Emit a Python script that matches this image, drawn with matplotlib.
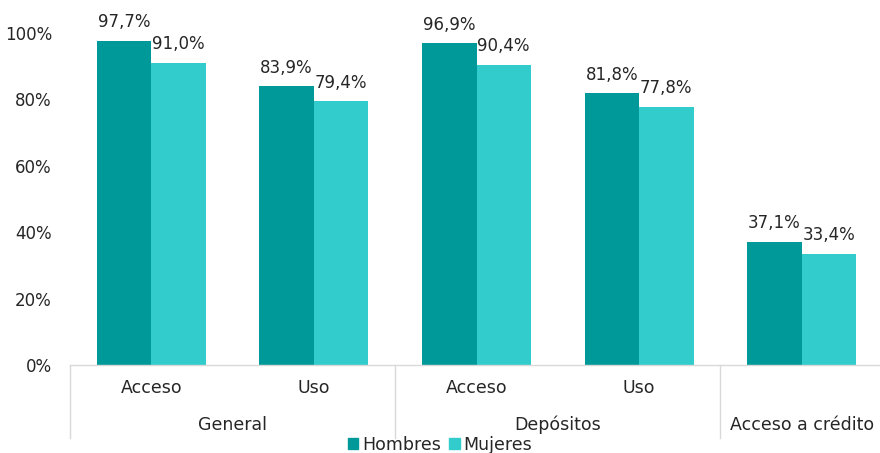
import matplotlib
matplotlib.use("Agg")
import matplotlib.pyplot as plt
from matplotlib.transforms import blended_transform_factory
from matplotlib.patches import Patch

categories = ["Acceso", "Uso", "Acceso", "Uso", ""]
groups = ["General", "Depósitos", "Acceso a crédito"]
group_spans = [(0, 1), (2, 3), (4, 4)]
hombres = [97.7, 83.9, 96.9, 81.8, 37.1]
mujeres = [91.0, 79.4, 90.4, 77.8, 33.4]
yticks = [0, 20, 40, 60, 80, 100]
series_names = ["Hombres", "Mujeres"]

c_h = "#009999"
c_m = "#33CCCC"
txt = "#262626"
plt.rcParams["font.family"] = ["DejaVu Sans"]
fs_num = 12
fs_word = 12.5

fig = plt.figure(figsize=(8.8, 4.53), dpi=100)
W, H = 880, 453
ax = fig.add_axes([70 / W, (H - 365) / H, 813 / W, 332 / H])

x = list(range(len(hombres)))
w = 0.335
b1 = ax.bar([i - w / 2 for i in x], hombres, w, color=c_h)
b2 = ax.bar([i + w / 2 for i in x], mujeres, w, color=c_m)

def fmt(v):
    return f"{v:.1f}%".replace(".", ",")

for bars, vals in ((b1, hombres), (b2, mujeres)):
    for r, v in zip(bars, vals):
        ax.annotate(fmt(v), (r.get_x() + r.get_width() / 2, v), xytext=(0, 7),
                    textcoords="offset points", ha="center", va="bottom",
                    fontsize=fs_num, color=txt, annotation_clip=False)

ax.set_xlim(-0.5, 4.5)
ax.set_ylim(0, 100)
ax.set_yticks(yticks)
ax.set_yticklabels([f"{t}%" for t in yticks], fontsize=fs_num, color=txt)
ax.tick_params(axis="y", length=0, pad=13)
ax.set_xticks([])
for s in ("top", "right", "left"):
    ax.spines[s].set_visible(False)
ax.spines["bottom"].set_color("#d9d9d9")
ax.spines["bottom"].set_linewidth(1)

tr = blended_transform_factory(ax.transData, ax.transAxes)
ybot = (365 - 438) / 332
for xv in (-0.5, 1.5, 3.5):
    ax.plot([xv, xv], [0, ybot], transform=tr, color="#d9d9d9", lw=1, clip_on=False)

ycat = (365 - 388) / 332
for i, c in enumerate(categories):
    if c:
        ax.text(i, ycat, c, transform=tr, ha="center", va="center", fontsize=fs_word, color=txt)
ygrp = (365 - 425) / 332
for g, (a, b) in zip(groups, group_spans):
    ax.text((a + b) / 2, ygrp, g, transform=tr, ha="center", va="center", fontsize=fs_word, color=txt)

handles = [Patch(color=c_h), Patch(color=c_m)]
fig.legend(handles, series_names, loc="center", bbox_to_anchor=(0.5, 8 / H), ncol=2,
           frameon=False, fontsize=fs_word, handlelength=0.6, handleheight=0.6,
           handletextpad=0.2, columnspacing=0.5, labelcolor=txt)

fig.savefig("out.png", dpi=100)
